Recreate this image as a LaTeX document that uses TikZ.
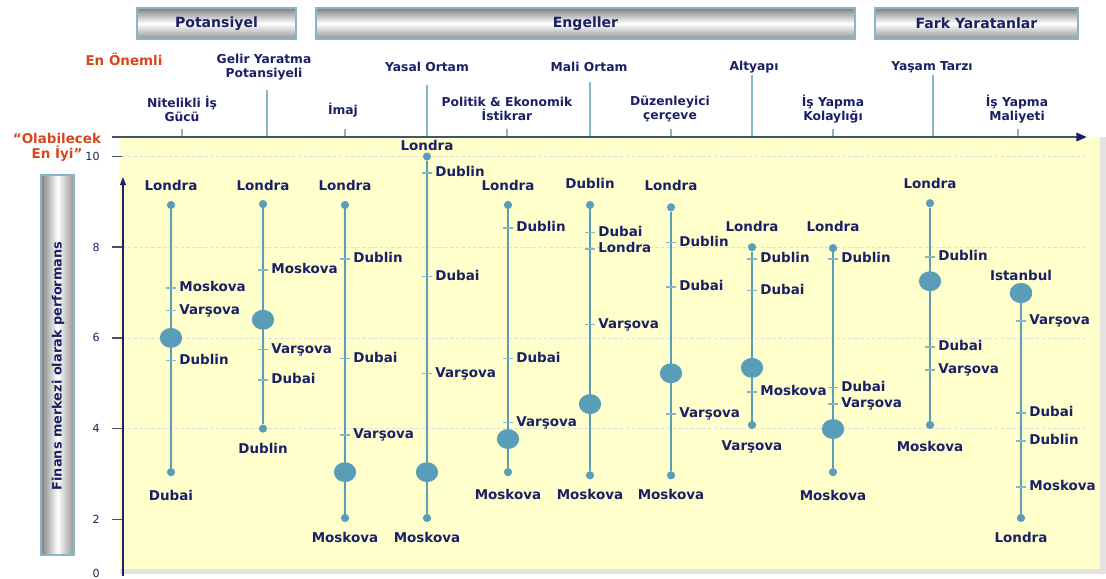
\documentclass[tikz,border=0pt]{standalone}
\usepackage{fontspec}
\setmainfont{DejaVu Sans}
\usetikzlibrary{arrows.meta,shapes.geometric}

\definecolor{lacivert}{HTML}{1B1F66}
\definecolor{camgobegi}{HTML}{5A9DB8}
\definecolor{acikcam}{HTML}{86B6C9}
\definecolor{turuncu}{HTML}{D8471C}
\definecolor{sari}{HTML}{FFFFCC}
\definecolor{eksenrengi}{HTML}{46536F}

\tikzset{
  baslik/.style={draw=acikcam, line width=1pt, top color=gray, bottom color=gray!85, middle color=white},
  cubuk/.style={draw=acikcam, line width=1pt, left color=gray, right color=gray!85, middle color=white},
  basyazi/.style={font=\fontsize{12}{14}\selectfont\bfseries, text=lacivert},
  kategori/.style={font=\fontsize{10.5}{12}\selectfont\bfseries, text=lacivert, align=center, inner sep=1pt},
  turuncuyazi/.style={font=\fontsize{11.5}{13}\selectfont\bfseries, text=turuncu, inner sep=1pt},
  sayi/.style={font=\fontsize{9.5}{11}\selectfont, text=lacivert, anchor=east, inner sep=1pt},
  etiket/.style={font=\fontsize{11.5}{13}\selectfont\bfseries, text=lacivert, inner sep=1pt, text height=8.5pt, text depth=2pt},
  nokta/.style={circle, fill=camgobegi, inner sep=0pt, minimum size=7pt},
  buyuknokta/.style={ellipse, fill=camgobegi, inner sep=0pt, minimum width=19pt, minimum height=17pt},
  kolon/.style={draw=camgobegi, line width=2.4pt},
  isaret/.style={draw=acikcam, line width=1.2pt},
  katcizgi/.style={draw=acikcam, line width=1.3pt},
  izgara/.style={draw=gray!25, line width=0.6pt, dash pattern=on 3pt off 2pt}
}

\begin{document}
\begin{tikzpicture}[x=0.03cm, y=-0.03cm]
\useasboundingbox (0,0) rectangle (1106,578);

% zemin
\fill[gray!22] (120,137) rectangle (1106,574);
\fill[sari] (120,137) rectangle (1100,569);
\foreach \v in {4,6,8,10}
  \draw[izgara] (122,{610-45.35*\v}) -- (1087,{610-45.35*\v});

% basliklar
\draw[baslik] (137,8) rectangle (296,39);
\draw[baslik] (316,8) rectangle (855,39);
\draw[baslik] (875,8) rectangle (1078,39);
\node[basyazi] (potansiyel) at (216.5,23.5) {Potansiyel};
\node[basyazi] (engeller) at (585.5,23.5) {Engeller};
\node[basyazi] (fark) at (976.5,23.5) {Fark Yaratanlar};

\node[turuncuyazi] (enonemli) at (124,59) {En Önemli};
\node[turuncuyazi, align=center] (eniyi) at (57,147.5) {“Olabilecek\\En İyi”};

\node[kategori] (gelir) at (264,67) {Gelir Yaratma\\Potansiyeli};
\node[kategori] (yasal) at (427,67) {Yasal Ortam};
\node[kategori] (mali) at (589,67) {Mali Ortam};
\node[kategori] (altyapi) at (754,67) {Altyapı};
\node[kategori] (yasam) at (932,67) {Yaşam Tarzı};
\node[kategori] (nitelikli) at (182,109) {Nitelikli İş\\Gücü};
\node[kategori] (imaj) at (343,110) {İmaj};
\node[kategori] (politik) at (507,109) {Politik \& Ekonomik\\İstikrar};
\node[kategori] (duzenleyici) at (670,109) {Düzenleyici\\çerçeve};
\node[kategori] (kolaylik) at (833,109) {İş Yapma\\Kolaylığı};
\node[kategori] (maliyet) at (1017,109) {İş Yapma\\Maliyeti};

\foreach \x/\ybas in {267/90, 427/85, 590/82, 752/75, 933/75}
  \draw[katcizgi] (\x,\ybas) -- (\x,137);
\foreach \x in {182,345,507,671,833,1018}
  \draw[katcizgi] (\x,129) -- (\x,137);

% eksenler
\coordinate (xbas) at (112,137);
\coordinate (xson) at (1087,137);
\coordinate (ybas) at (123,576);
\coordinate (yson) at (123,177);
\draw[eksenrengi, line width=2.2pt, -{Triangle[length=9pt,width=7pt,color=lacivert]}] (xbas) -- (xson);
\draw[lacivert, line width=1.4pt, -{Triangle[length=7pt,width=5pt]}] (ybas) -- (yson);
\foreach \v in {2,4,6,8,10} {
  \draw[eksenrengi, line width=1.3pt] (112,{610-45.35*\v}) -- (122,{610-45.35*\v});
  \node[sayi] (s\v) at (101,{610-45.35*\v}) {\v};
}
\node[sayi] (s0) at (101,573) {0};

\draw[cubuk] (41,175) rectangle (74,555);
\node[basyazi, font=\fontsize{11}{13}\selectfont\bfseries, rotate=90] (eksenadi) at (58,366) {Finans merkezi olarak performans};

% kolonlar
\foreach \n/\x/\ustv/\altv/\orta/\ustad/\altad/\ustyy/\altyy in {
  1/171/8.93/3.04/6.0/Londra/Dubai/187/497,
  2/263/8.95/4.0/6.4/Londra/Dublin/187/450,
  3/345/8.93/2.03/3.04/Londra/Moskova/187/539,
  4/427/10.0/2.03/3.04/Londra/Moskova/147/539,
  5/508/8.93/3.04/3.77/Londra/Moskova/187/496,
  6/590/8.93/2.97/4.54/Dublin/Moskova/185/496,
  7/671/8.88/2.97/5.22/Londra/Moskova/187/496,
  8/752/8.0/4.08/5.34/Londra/Varşova/228/447,
  9/833/7.98/3.04/3.99/Londra/Moskova/228/497,
  10/930/8.97/4.08/7.25/Londra/Moskova/185/448} {
  \node[nokta] (k\n u) at (\x,{610-45.35*\ustv}) {};
  \node[nokta] (k\n a) at (\x,{610-45.35*\altv}) {};
  \draw[kolon] (k\n u) -- (k\n a);
  \node[buyuknokta] (k\n b) at (\x,{610-45.35*\orta}) {};
  \node[etiket] (k\n ul) at (\x,\ustyy) {\ustad};
  \node[etiket] (k\n al) at (\x,\altyy) {\altad};
}
\node[nokta] (k11a) at (1021,{610-45.35*2.03}) {};
\node[buyuknokta] (k11b) at (1021,{610-45.35*6.99}) {};
\draw[kolon] (k11b) -- (k11a);
\node[buyuknokta] at (k11b) {};
\node[etiket] (k11ul) at (1021,277) {Istanbul};
\node[etiket] (k11al) at (1021,539) {Londra};

% ara degerler
\foreach \x/\v/\ad [count=\n] in {
  171/7.1/Moskova, 171/6.6/Varşova, 171/5.5/Dublin,
  263/7.5/Moskova, 263/5.75/Varşova, 263/5.07/Dubai,
  345/7.74/Dublin, 345/5.55/Dubai, 345/3.86/Varşova,
  427/9.64/Dublin, 427/7.35/Dubai, 427/5.22/Varşova,
  508/8.42/Dublin, 508/5.55/Dubai, 508/4.14/Varşova,
  590/8.33/Dubai, 590/7.96/Londra, 590/6.3/Varşova,
  671/8.11/Dublin, 671/7.12/Dubai, 671/4.32/Varşova,
  752/7.74/Dublin, 752/7.04/Dubai, 752/4.81/Moskova,
  833/7.74/Dublin, 833/4.9/Dubai, 833/4.54/Varşova,
  930/7.78/Dublin, 930/5.8/Dubai, 930/5.29/Varşova,
  1021/6.37/Varşova, 1021/4.34/Dubai, 1021/3.73/Dublin, 1021/2.71/Moskova} {
  \draw[isaret] (\x-5,{610-45.35*\v}) -- (\x+5,{610-45.35*\v});
  \node[etiket, anchor=west] (t\n) at (\x+7,{610-45.35*\v}) {\ad};
}
\end{tikzpicture}
\end{document}
